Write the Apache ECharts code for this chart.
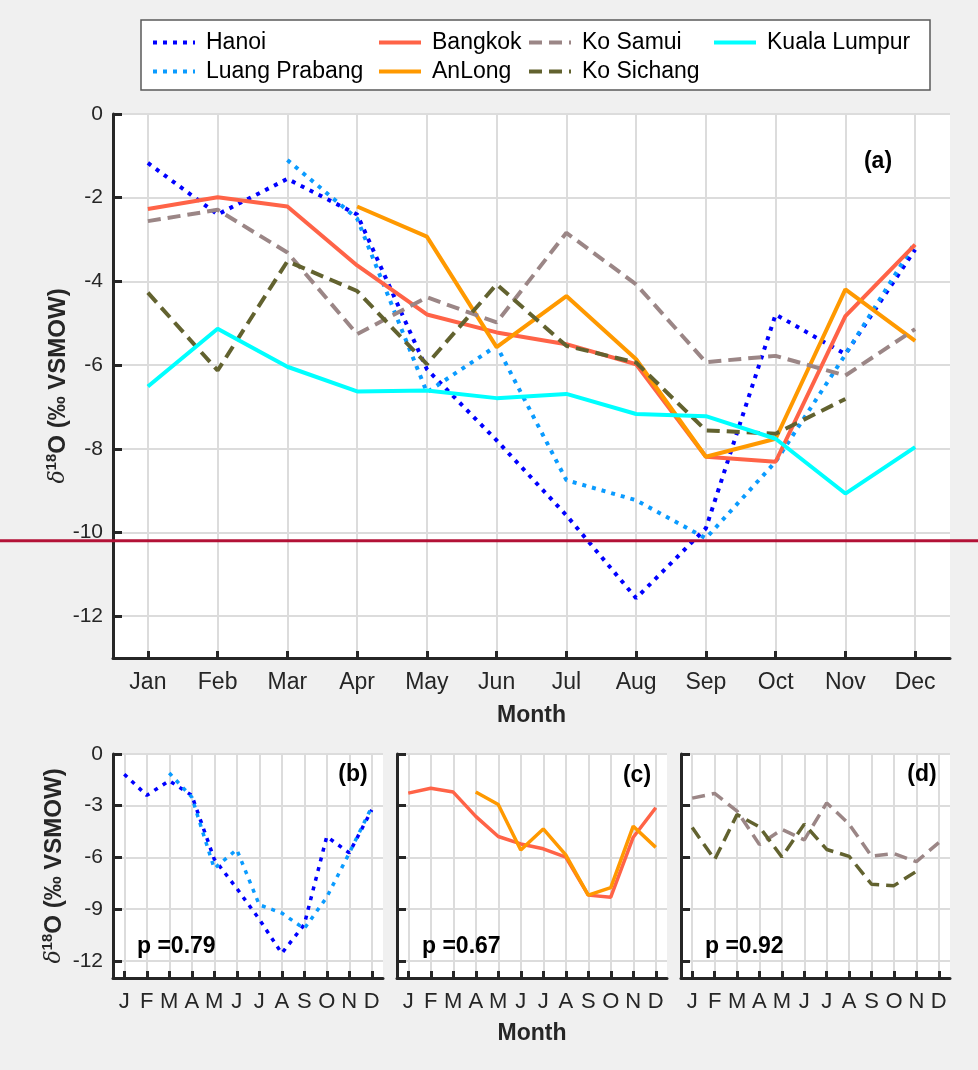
<!DOCTYPE html>
<html>
<head>
<meta charset="utf-8">
<script src="https://cdn.jsdelivr.net/npm/echarts@6/dist/echarts.min.js"></script>
<style>
  html, body { margin: 0; padding: 0; background: #f0f0f0; }
  #chart { width: 978px; height: 1070px; }
</style>
</head>
<body>
<div id="chart"></div>
<script>
// monthly mean d18O of precipitation (permil VSMOW)
const months = ['Jan', 'Feb', 'Mar', 'Apr', 'May', 'Jun', 'Jul', 'Aug', 'Sep', 'Oct', 'Nov', 'Dec']
const monthLetters = ['J', 'F', 'M', 'A', 'M', 'J', 'J', 'A', 'S', 'O', 'N', 'D']

const hanoi = [-1.17, -2.40, -1.55, -2.40, -6.10, -7.80, -9.59, -11.57, -9.90, -4.79, -5.74, -3.24]
const luangPrabang = [null, null, -1.10, -2.50, -6.65, -5.54, -8.75, -9.23, -10.14, -8.31, -5.75, -3.07]
const bangkok = [-2.27, -1.99, -2.21, -3.62, -4.79, -5.22, -5.50, -5.98, -8.19, -8.31, -4.83, -3.12]
const anLong = [null, null, null, -2.21, -2.93, -5.57, -4.35, -5.86, -8.19, -7.76, -4.19, -5.42]
const koSamui = [-2.56, -2.29, -3.31, -5.26, -4.38, -4.98, -2.84, -4.07, -5.93, -5.78, -6.25, -5.14]
const koSichang = [-4.27, -6.13, -3.52, -4.23, -5.98, -4.07, -5.54, -5.94, -7.56, -7.64, -6.81, null]
const kualaLumpur = [-6.51, -5.13, -6.04, -6.63, -6.61, -6.79, -6.69, -7.17, -7.22, -7.76, -9.07, -7.96]

const mainTicks = [-12, -10, -8, -6, -4, -2, 0]
const subTicks = [-12, -9, -6, -3, 0]
const refLine = -10.2
const pValues = ['p =0.79', 'p =0.67', 'p =0.92']

const FONT = 'Arial, "Liberation Sans", sans-serif'
const INK = '#262626'
const GRIDC = '#dcdcdc'

const styles = {
  'Hanoi': { color: '#0000ff', type: [4, 6] },
  'Luang Prabang': { color: '#0a9bff', type: [4, 6] },
  'Bangkok': { color: '#ff6347', type: 'solid' },
  'AnLong': { color: '#ff9900', type: 'solid' },
  'Ko Samui': { color: '#9b8686', type: [13, 7] },
  'Ko Sichang': { color: '#62622f', type: [13, 7] },
  'Kuala Lumpur': { color: '#00ffff', type: 'solid' }
}

function pairs(arr) {
  return arr.map((v, i) => [i + 1, v])
}

function line(name, data, axis, width) {
  const st = styles[name]
  return {
    name: name,
    type: 'line',
    xAxisIndex: axis,
    yAxisIndex: axis,
    data: pairs(data),
    symbol: 'none',
    connectNulls: false,
    lineStyle: { color: st.color, width: width, type: st.type, cap: 'butt' },
    itemStyle: { color: st.color },
    z: 3
  }
}

const yName = '{d|δ}{s|18}{b|O (‰ VSMOW)}'
const yNameRich = {
  d: { fontFamily: '"DejaVu Serif", serif', fontStyle: 'italic', fontSize: 22, color: INK, lineHeight: 28 },
  s: { fontFamily: FONT, fontSize: 15, fontWeight: 'bold', color: INK, verticalAlign: 'top', lineHeight: 28 },
  b: { fontFamily: FONT, fontSize: 24, fontWeight: 'bold', color: INK, lineHeight: 28 }
}

function xAxis(idx, labels, fontSize, name, gap) {
  return {
    type: 'value',
    gridIndex: idx,
    min: 0.5,
    max: 12.5,
    name: name || '',
    nameLocation: 'middle',
    nameGap: gap || 46,
    nameTextStyle: { fontFamily: FONT, fontSize: 23, fontWeight: 'bold', color: INK },
    axisLine: { onZero: false, lineStyle: { color: INK, width: 3 } },
    axisTick: { inside: true, length: 7, lineStyle: { color: INK, width: 3 }, customValues: [1, 2, 3, 4, 5, 6, 7, 8, 9, 10, 11, 12] },
    axisLabel: {
      customValues: [1, 2, 3, 4, 5, 6, 7, 8, 9, 10, 11, 12],
      formatter: v => labels[Math.round(v) - 1],
      fontFamily: FONT, fontSize: fontSize, color: INK, margin: 13
    },
    splitLine: { show: true, lineStyle: { color: GRIDC, width: 2 } }
  }
}

function yAxis(idx, ticks, showLabels, name, gap) {
  return {
    type: 'value',
    gridIndex: idx,
    min: -13,
    max: 0,
    name: name || '',
    nameLocation: 'middle',
    nameRotate: 90,
    nameGap: gap || 38,
    nameMoveOverlap: false,
    nameTextStyle: { rich: yNameRich },
    axisLine: { show: true, lineStyle: { color: INK, width: 3 } },
    axisTick: { show: true, inside: true, length: 9, lineStyle: { color: INK, width: 3 }, customValues: ticks },
    axisLabel: {
      show: showLabels,
      customValues: ticks,
      fontFamily: FONT, fontSize: 21, color: INK, margin: 10
    },
    splitLine: { show: true, lineStyle: { color: GRIDC, width: 2 } }
  }
}

function legend(left, names) {
  return {
    orient: 'vertical',
    left: left,
    top: 26,
    data: names,
    itemWidth: 42,
    itemHeight: 14,
    itemGap: 6,
    itemStyle: { opacity: 0 },
    lineStyle: { width: 4 },
    textStyle: { fontFamily: FONT, fontSize: 23, color: '#000', padding: [0, 0, 0, 6] }
  }
}

function label(x, y, text, align) {
  return {
    type: 'text',
    x: x,
    y: y,
    z: 10,
    style: {
      text: text,
      fill: '#000',
      font: 'bold 23px ' + FONT,
      align: align || 'center',
      verticalAlign: 'middle'
    }
  }
}

const chart = echarts.init(document.getElementById('chart'))

const baseGraphic = [
  {
    type: 'rect',
    z: 0,
    shape: { x: 141, y: 20, width: 789, height: 70 },
    style: { fill: '#fff', stroke: '#5a5a5a', lineWidth: 1.5 }
  },
  label(878, 162, '(a)'),
  label(353, 775, '(b)'),
  label(637, 776, '(c)'),
  label(922, 775, '(d)'),
  label(137, 947, pValues[0], 'left'),
  label(422, 947, pValues[1], 'left'),
  label(705, 947, pValues[2], 'left')
]

chart.setOption({
  animation: false,
  backgroundColor: '#f0f0f0',
  legend: [
    legend(146, ['Hanoi', 'Luang Prabang']),
    legend(372, ['Bangkok', 'AnLong']),
    legend(522, ['Ko Samui', 'Ko Sichang']),
    legend(707, ['Kuala Lumpur'])
  ],
  grid: [
    { left: 113, right: 28, top: 114, bottom: 412, show: true, backgroundColor: '#fff', borderWidth: 0 },
    { left: 113, right: 595, top: 754, bottom: 92, show: true, backgroundColor: '#fff', borderWidth: 0 },
    { left: 397, right: 311, top: 754, bottom: 92, show: true, backgroundColor: '#fff', borderWidth: 0 },
    { left: 681, right: 28, top: 754, bottom: 92, show: true, backgroundColor: '#fff', borderWidth: 0 }
  ],
  xAxis: [
    xAxis(0, months, 23, 'Month', 46),
    xAxis(1, monthLetters, 22),
    xAxis(2, monthLetters, 22, 'Month', 44),
    xAxis(3, monthLetters, 22)
  ],
  yAxis: [
    yAxis(0, mainTicks, true, yName, 41),
    yAxis(1, subTicks, true, yName, 45),
    yAxis(2, subTicks, false),
    yAxis(3, subTicks, false)
  ],
  series: [
    line('Hanoi', hanoi, 0, 4),
    line('Luang Prabang', luangPrabang, 0, 4),
    line('Bangkok', bangkok, 0, 4),
    line('AnLong', anLong, 0, 4),
    line('Ko Samui', koSamui, 0, 4),
    line('Ko Sichang', koSichang, 0, 4),
    line('Kuala Lumpur', kualaLumpur, 0, 4),
    line('Hanoi', hanoi, 1, 3.5),
    line('Luang Prabang', luangPrabang, 1, 3.5),
    line('Bangkok', bangkok, 2, 3.5),
    line('AnLong', anLong, 2, 3.5),
    line('Ko Samui', koSamui, 3, 3.5),
    line('Ko Sichang', koSichang, 3, 3.5)
  ],
  graphic: baseGraphic
})

// reference level drawn across the whole figure width
const refY = chart.convertToPixel({ yAxisIndex: 0 }, refLine)
chart.setOption({
  graphic: baseGraphic.concat([{
    type: 'line',
    z: 20,
    shape: { x1: 0, y1: refY, x2: 978, y2: refY },
    style: { stroke: '#b31237', lineWidth: 3 }
  }])
})
</script>
</body>
</html>
